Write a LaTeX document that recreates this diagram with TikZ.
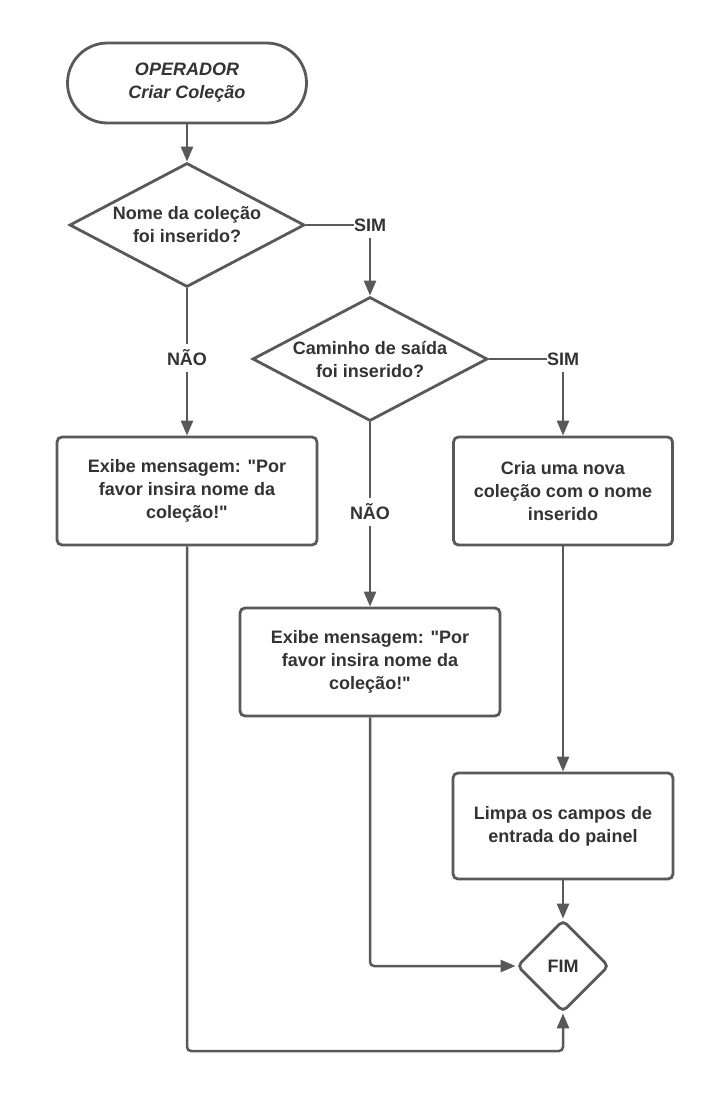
\documentclass[tikz,border=0pt]{standalone}
\usepackage{fontspec}
\setmainfont{Liberation Sans}[Ligatures=TeXOff]
\usetikzlibrary{shapes.geometric,arrows.meta}
\definecolor{ln}{HTML}{595959}
\definecolor{tx}{HTML}{333333}
\begin{document}
\begin{tikzpicture}[x=1pt,y=-1pt,
  every node/.style={font=\fontsize{18}{23}\selectfont\bfseries, text=tx, align=center},
  shp/.style={draw=ln, line width=2.8pt, fill=white},
  term/.style={shp, rectangle, rounded corners=40pt, minimum width=239pt, minimum height=80pt, inner sep=0pt},
  dec/.style={shp, diamond, aspect=1.9, minimum width=235pt, minimum height=124pt, inner sep=0pt},
  proc/.style={shp, rectangle, rounded corners=5pt, minimum height=108pt, inner sep=0pt},
  lab/.style={inner xsep=0pt, inner ysep=6pt},
  conn/.style={draw=ln, line width=2.5pt},
  arr/.style={conn, -{Triangle[length=15pt,width=12pt]}}
]
\useasboundingbox (0,0) rectangle (722,1112);
\node[term] (t) at (187,83) {\itshape OPERADOR\\\itshape Criar Coleção};
\node[dec] (d1) at (187,225) {Nome da coleção\\foi inserido?};
\node[lab] (s1) at (370,225) {SIM};
\node[dec] (d2) at (370,359) {Caminho de saída\\foi inserido?};
\node[lab] (n1) at (187,358) {NÃO};
\node[lab] (s2) at (563,359) {SIM};
\node[proc, minimum width=260pt] (b1) at (187,491) {Exibe mensagem: "Por\\favor insira nome da\\coleção!"};
\node[proc, minimum width=219pt] (b2) at (563,491) {Cria uma nova\\coleção com o nome\\inserido};
\node[lab] (n2) at (370,512) {NÃO};
\node[proc, minimum width=260pt] (b3) at (370,662) {Exibe mensagem: "Por\\favor insira nome da\\coleção!"};
\node[proc, minimum width=220pt, minimum height=106pt] (b4) at (563,826) {Limpa os campos de\\entrada do painel};
\node[shp, diamond, rounded corners=5pt, minimum width=92pt, minimum height=92pt, inner sep=0pt] (fim) at (563,966) {FIM};
\coordinate (c1) at (187,1051);

\draw[arr] (t) -- (d1);
\draw[conn] (d1.east) -- (s1.west);
\draw[arr] (s1.south) -- (d2.north);
\draw[conn] (d1.south) -- (n1.north);
\draw[arr] (n1.south) -- (b1.north);
\draw[conn] (d2.east) -- (s2.west);
\draw[arr] (s2.south) -- (b2.north);
\draw[conn] (d2.south) -- (n2.north);
\draw[arr] (n2.south) -- (b3.north);
\draw[arr] (b2) -- (b4);
\draw[arr] (b4) -- (fim);
\draw[arr, rounded corners=4pt] (b3.south) |- (fim.west);
\draw[arr, rounded corners=4pt] (b1.south) -- (c1) -| (fim.south);
\end{tikzpicture}
\end{document}
